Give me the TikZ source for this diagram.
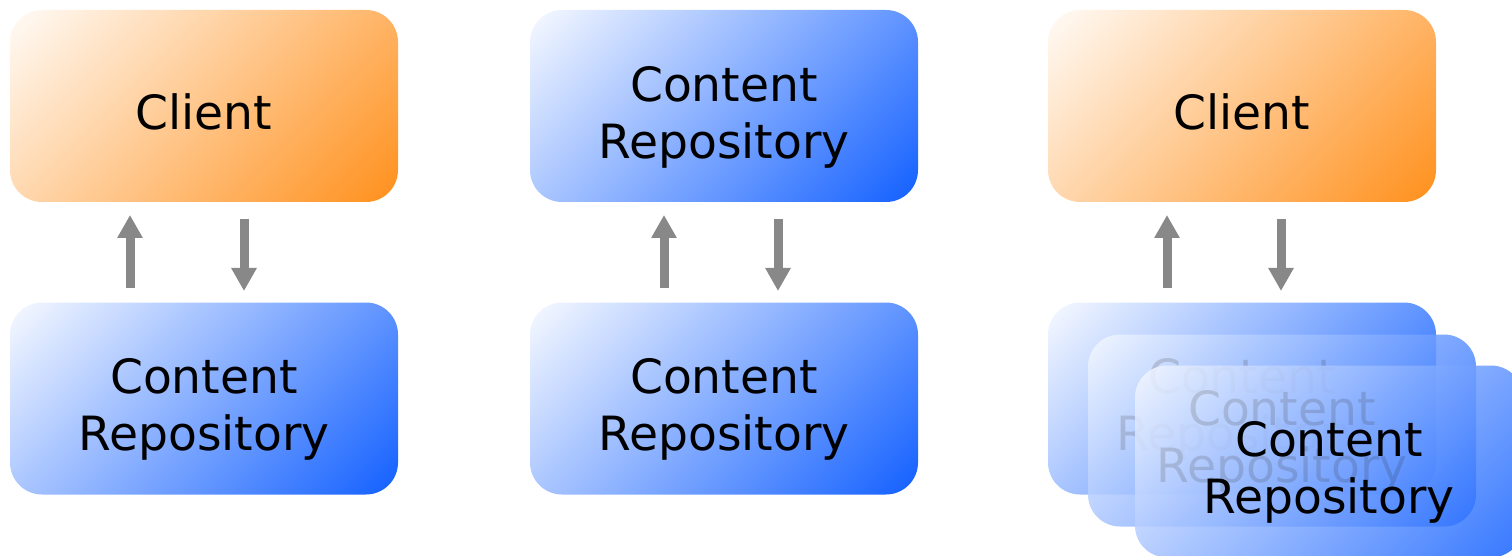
\documentclass[tikz,border=0pt]{standalone}
\usepackage{fontspec}
\setmainfont{DejaVu Sans}
\usetikzlibrary{arrows.meta}
\definecolor{clientorange}{RGB}{255,140,20}
\definecolor{repoblue}{RGB}{10,90,255}
\definecolor{flowgray}{RGB}{136,136,136}
\pgfdeclarehorizontalshading{clientfade}{100bp}{color(0bp)=(white); color(12bp)=(white); color(88bp)=(clientorange); color(100bp)=(clientorange)}
\pgfdeclarehorizontalshading{repofade}{100bp}{color(0bp)=(white); color(12bp)=(white); color(88bp)=(repoblue); color(100bp)=(repoblue)}

\begin{document}
\begin{tikzpicture}[x=0.5pt,y=0.5pt,yscale=-1,xscale=1,
	box/.style={rounded corners=16pt, minimum width=194pt, minimum height=96pt, inner sep=0pt},
	clientbox/.style={box, shade, shading=clientfade, shading angle=-45},
	repobox/.style={box, shade, shading=repofade, shading angle=-45},
	seethrough/.style={fill opacity=0.85, text opacity=1},
	boxtext/.style={font=\fontsize{23.6pt}{28.5pt}\selectfont, align=center, inner sep=0pt},
	flow/.style={draw=flowgray, line width=4.5pt, -{Triangle[length=11.5pt,width=12pt]}}]
	\useasboundingbox (0,0) rectangle (1512,556);

	%Rounded Rect (left pair)
	\node [clientbox] (client1) at (204,106) {};
	\node [repobox] (repo1) at (204,398.5) {};
	% Text Node
	\node [boxtext] (client1txt) at (204,112) {Client};
	% Text Node
	\node [boxtext] (repo1txt) at (204,409.5) {Content\\Repository};

	%Rounded Rect (middle pair)
	\node [repobox] (repo2top) at (724,106) {};
	\node [repobox] (repo2) at (724,398.5) {};
	% Text Node
	\node [boxtext] (repo2toptxt) at (724,117) {Content\\Repository};
	% Text Node
	\node [boxtext] (repo2txt) at (724,409.5) {Content\\Repository};

	%Rounded Rect (right, client over stacked repositories)
	\node [clientbox] (client3) at (1242,106) {};
	% Text Node
	\node [boxtext] (client3txt) at (1242,112) {Client};
	\node [repobox] (repo3a) at (1242,398.5) {};
	\node [boxtext] (repo3atxt) at (1242,409.5) {Content\\Repository};
	\node [repobox, seethrough] (repo3b) at (1282,430.5) {};
	\node [boxtext] (repo3btxt) at (1282,441.5) {Content\\Repository};
	\node [repobox, seethrough] (repo3c) at (1329,461.5) {};
	\node [boxtext] (repo3ctxt) at (1329,472.5) {Content\\Repository};

	%Straight Lines (arrow ends)
	\coordinate (up1s) at (130,288);   \coordinate (up1e) at (130,215);
	\coordinate (dn1s) at (244,219);   \coordinate (dn1e) at (244,291);
	\coordinate (up2s) at (664,288);   \coordinate (up2e) at (664,215);
	\coordinate (dn2s) at (778,219);   \coordinate (dn2e) at (778,291);
	\coordinate (up3s) at (1167,288);  \coordinate (up3e) at (1167,215);
	\coordinate (dn3s) at (1281,219);  \coordinate (dn3e) at (1281,291);

	%Straight Lines
	\draw [flow] (up1s) -- (up1e);
	\draw [flow] (dn1s) -- (dn1e);
	\draw [flow] (up2s) -- (up2e);
	\draw [flow] (dn2s) -- (dn2e);
	\draw [flow] (up3s) -- (up3e);
	\draw [flow] (dn3s) -- (dn3e);

\end{tikzpicture}
\end{document}
